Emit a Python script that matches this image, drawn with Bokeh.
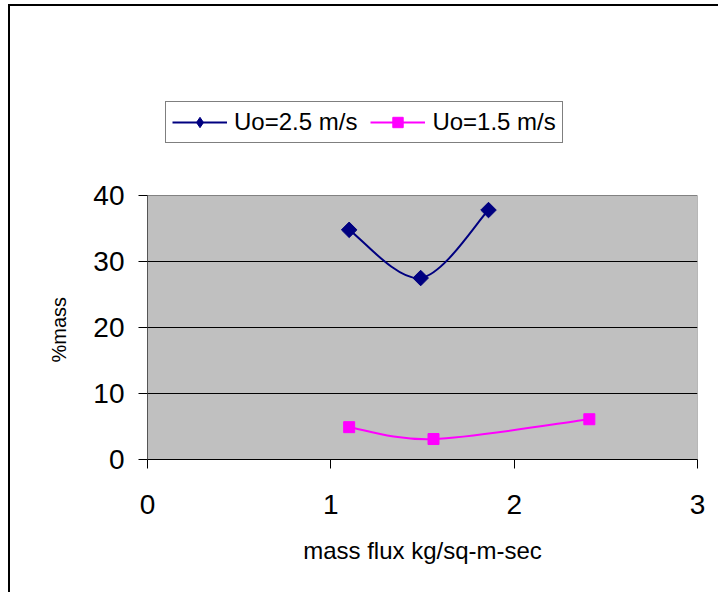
import math
from bokeh.plotting import figure
from bokeh.models import (ColumnDataSource, Legend, LegendItem,
                          FixedTicker, Range1d, Title)
from bokeh.embed import file_html
from bokeh.resources import INLINE

# ---- data ----
x_u25 = [1.10, 1.49, 1.86]
y_u25 = [34.8, 27.5, 37.8]
x_u15 = [1.10, 1.56, 2.41]
y_u15 = [4.9, 3.1, 6.1]
labels = ["Uo=2.5 m/s", "Uo=1.5 m/s"]
x_ticks = [0, 1, 2, 3]
y_ticks = [0, 10, 20, 30, 40]
x_title = "mass flux kg/sq-m-sec"
y_title = "%mass"

FONT = "Liberation Sans"
Y_TOP_SPACE = 54.4   # frame extends above the plot area to hold the legend


def smooth_segments(xs, ys, t=1.0 / 6.0):
    """Catmull-Rom style Bezier segments (like a spreadsheet's smoothed line)."""
    n = len(xs)
    d = dict(x0=[], y0=[], x1=[], y1=[], cx0=[], cy0=[], cx1=[], cy1=[])
    for i in range(n - 1):
        p0 = max(i - 1, 0)
        p3 = min(i + 2, n - 1)
        d["x0"].append(xs[i]); d["y0"].append(ys[i])
        d["x1"].append(xs[i + 1]); d["y1"].append(ys[i + 1])
        d["cx0"].append(xs[i] + (xs[i + 1] - xs[p0]) * t)
        d["cy0"].append(ys[i] + (ys[i + 1] - ys[p0]) * t)
        d["cx1"].append(xs[i + 1] - (xs[p3] - xs[i]) * t)
        d["cy1"].append(ys[i + 1] - (ys[p3] - ys[i]) * t)
    return ColumnDataSource(d)


p = figure(width=710, height=588, output_backend="svg", toolbar_location=None,
           x_range=Range1d(x_ticks[0], x_ticks[-1]),
           y_range=Range1d(y_ticks[0], Y_TOP_SPACE),
           min_border_left=137, min_border_right=23,
           min_border_top=94, min_border_bottom=135)
p.styles = {"border-left": "2px solid black", "border-top": "2px solid black",
            "margin-left": "8px", "margin-top": "4px"}

p.background_fill_color = "white"
p.border_fill_color = "white"
p.outline_line_color = None

# gray plot area
p.quad(left=[x_ticks[0]], right=[x_ticks[-1]], bottom=[y_ticks[0]], top=[y_ticks[-1]],
       fill_color="#C0C0C0", line_color="#808080", line_width=1, level="image")

p.xgrid.visible = False
p.ygrid.ticker = FixedTicker(ticks=y_ticks[1:-1])
p.ygrid.grid_line_color = "black"
p.ygrid.grid_line_width = 1

for ax in (p.xaxis[0], p.yaxis[0]):
    ax.major_label_text_font = FONT
    ax.major_label_text_font_size = "28px"
    ax.major_label_text_color = "black"
    ax.axis_label_text_font = FONT
    ax.axis_label_text_font_size = "24px"
    ax.axis_label_text_font_style = "normal"
    ax.axis_label_text_color = "black"
    ax.major_tick_in = 0
    ax.major_tick_out = 9
    ax.minor_tick_in = 0
    ax.minor_tick_out = 0
    ax.major_tick_line_color = "black"

p.xaxis.ticker = FixedTicker(ticks=x_ticks)
p.yaxis.ticker = FixedTicker(ticks=y_ticks)
p.yaxis.bounds = (y_ticks[0], y_ticks[-1])
p.xaxis.axis_line_color = "black"
p.yaxis.axis_line_color = "#555555"
p.xaxis.axis_label = x_title
p.xaxis.major_label_standoff = 26
p.yaxis.major_label_standoff = 14
p.xaxis.axis_label_standoff = 20

# y title, centred on the gray plot area (not on the taller frame)
p.add_layout(Title(text=y_title, align="left", offset=97, standoff=42,
                   text_font=FONT, text_font_size="20px",
                   text_font_style="normal", text_color="black"), "left")

# series 1
s1 = smooth_segments(x_u25, y_u25)
b1 = p.bezier(x0="x0", y0="y0", x1="x1", y1="y1", cx0="cx0", cy0="cy0",
              cx1="cx1", cy1="cy1", source=s1, line_color="#000080", line_width=2)
m1_key = p.scatter(x_u25, y_u25, marker="diamond", size=14,
                   fill_color="#000080", line_color="#000080")
m1 = p.scatter(x_u25, y_u25, marker="square", angle=math.pi / 4, size=11,
               fill_color="#000080", line_color="#000080")

# series 2
s2 = smooth_segments(x_u15, y_u15)
b2 = p.bezier(x0="x0", y0="y0", x1="x1", y1="y1", cx0="cx0", cy0="cy0",
              cx1="cx1", cy1="cy1", source=s2, line_color="#FF00FF", line_width=2)
m2 = p.scatter(x_u15, y_u15, marker="square", size=11, fill_color="#FF00FF",
               line_color="#FF00FF")

legend = Legend(items=[LegendItem(label=labels[0], renderers=[b1, m1_key]),
                       LegendItem(label=labels[1], renderers=[b2, m2])],
                orientation="horizontal", location=(18, 316),
                label_text_font=FONT, label_text_font_size="24px",
                label_text_color="black",
                glyph_width=55, glyph_height=26, label_standoff=7, spacing=13,
                padding=6, margin=0,
                border_line_color="black", border_line_width=1,
                background_fill_color="white", background_fill_alpha=1)
p.add_layout(legend)

open("out.html", "w").write(file_html(p, INLINE))
